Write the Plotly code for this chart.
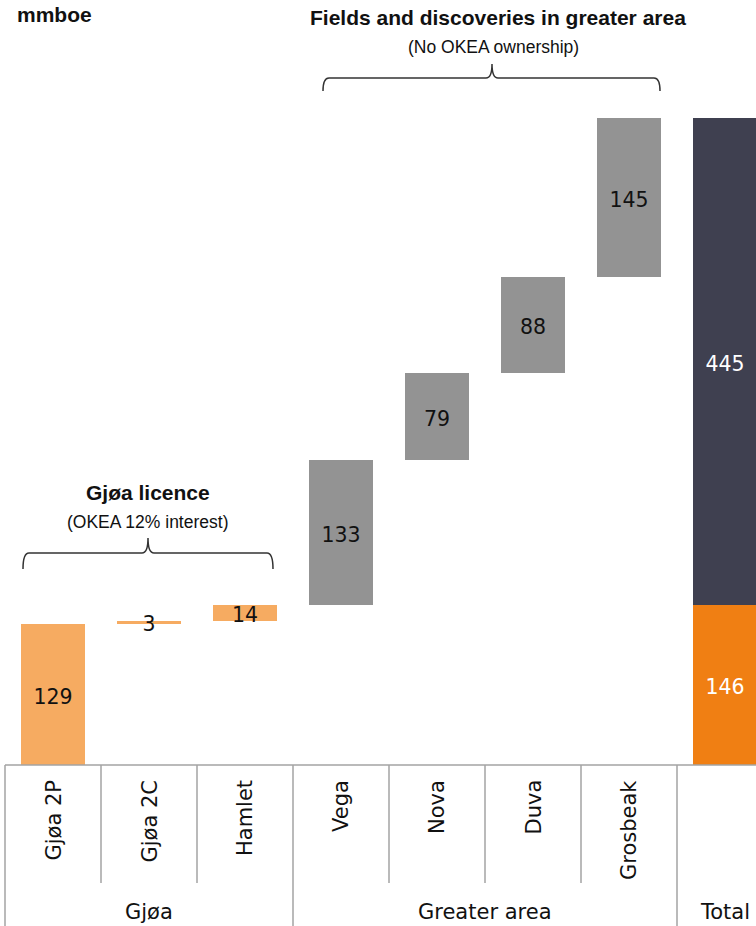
import plotly.graph_objects as go

# ---- data ----
categories = ["Gjøa 2P", "Gjøa 2C", "Hamlet", "Vega", "Nova", "Duva", "Grosbeak", "Total"]
gjoa_values = [129, 3, 14]
greater_values = [133, 79, 88, 145]
groups = [("Gjøa", 0, 2), ("Greater area", 3, 6), ("Total", 7, 7)]

# ---- styles ----
C_GJOA = "#F6AB61"
C_GREATER = "#939393"
C_TOTAL_GJOA = "#F07F13"
C_TOTAL_GREATER = "#3F4050"
LINE = "#A3A3A3"
VAL_FONT = "DejaVu Sans"
TITLE_FONT = "Liberation Sans, Arial"

W, H = 756, 926
ML, MR, MT, MB = 5, 0, 0, 161
plot_w = W - ML - MR
plot_h = H - MT - MB
cat_px = 96.0
x_min = -0.5
x_max = x_min + plot_w / cat_px
y_top = 699.0
bar_w = 0.667
px_per_unit = plot_h / y_top
label_shift = 4 / px_per_unit   # nudge text centre down a few pixels

def py(p):            # pixel y -> paper y
    return (MT + plot_h - p) / plot_h

def px_x(p):          # pixel x -> data x
    return x_min + (p - ML) / cat_px

def py_y(p):          # pixel y -> data y
    return (MT + plot_h - p) / plot_h * y_top

def xpaper(xd):
    return (xd - x_min) / (x_max - x_min)

fig = go.Figure()

# incremental bars
inc_values = gjoa_values + greater_values
inc_colors = [C_GJOA] * len(gjoa_values) + [C_GREATER] * len(greater_values)
bases = []
run = 0
for v in inc_values:
    bases.append(run)
    run += v
xs = list(range(len(inc_values)))
fig.add_trace(go.Bar(x=xs, y=inc_values, base=bases, width=bar_w,
                     marker=dict(color=inc_colors, line=dict(width=0)),
                     hoverinfo="skip", showlegend=False))

# total stacked bar
tot_gjoa = sum(gjoa_values)
tot_greater = sum(greater_values)
ti = len(categories) - 1
fig.add_trace(go.Bar(x=[ti], y=[tot_gjoa], base=[0], width=bar_w,
                     marker=dict(color=C_TOTAL_GJOA, line=dict(width=0)),
                     hoverinfo="skip", showlegend=False))
fig.add_trace(go.Bar(x=[ti], y=[tot_greater], base=[tot_gjoa], width=bar_w,
                     marker=dict(color=C_TOTAL_GREATER, line=dict(width=0)),
                     hoverinfo="skip", showlegend=False))

# value labels
lx = xs + [ti, ti]
ly = [b + v / 2 for b, v in zip(bases, inc_values)] + [tot_gjoa / 2, tot_gjoa + tot_greater / 2]
ly = [y - label_shift for y in ly]
lt = [str(v) for v in inc_values] + [str(tot_gjoa), str(tot_greater)]
lc = ["#111111"] * len(inc_values) + ["white", "white"]
fig.add_trace(go.Scatter(x=lx, y=ly, text=lt, mode="text", cliponaxis=False,
                         textfont=dict(family=VAL_FONT, size=20.5, color=lc),
                         hoverinfo="skip", showlegend=False))

shapes = []
annotations = []

# table lines below the axis
shapes.append(dict(type="line", xref="paper", yref="paper", x0=0, x1=1, y0=0, y1=0,
                   line=dict(color=LINE, width=1.5)))
group_bounds = set()
for _, s, e in groups:
    group_bounds.add(s - 0.5)
    group_bounds.add(e + 0.5)
for i in range(len(categories) + 1):
    b = i - 0.5
    if b > x_max:
        continue
    yb = py(H) if b in group_bounds else py(883)
    shapes.append(dict(type="line", xref="paper", yref="paper", x0=xpaper(b), x1=xpaper(b),
                       y0=0, y1=yb, line=dict(color=LINE, width=1.5)))

# category labels
for i, c in enumerate(categories):
    if c == "Total":
        continue
    annotations.append(dict(x=i, y=py(778), xref="x", yref="paper", text=c, textangle=-90,
                            showarrow=False, xanchor="center", yanchor="top",
                            font=dict(family=VAL_FONT, size=21, color="#111111")))
# group labels
for name, s, e in groups:
    annotations.append(dict(x=(s + e) / 2, y=py(912), xref="x", yref="paper", text=name,
                            showarrow=False, xanchor="center", yanchor="middle",
                            font=dict(family=VAL_FONT, size=21, color="#111111")))

# braces
def brace(x0p, x1p, xcp, yh, yend, ytop, r=6):
    pts = lambda x, y: f"{px_x(x):.5f},{py_y(y):.4f}"
    return ("M " + pts(x0p, yend) +
            " Q " + pts(x0p, yh) + " " + pts(x0p + r, yh) +
            " L " + pts(xcp - r, yh) +
            " Q " + pts(xcp, yh) + " " + pts(xcp, ytop) +
            " Q " + pts(xcp, yh) + " " + pts(xcp + r, yh) +
            " L " + pts(x1p - r, yh) +
            " Q " + pts(x1p, yh) + " " + pts(x1p, yend))

shapes.append(dict(type="path", xref="x", yref="y",
                   path=brace(23, 273, 148, 553, 569, 538),
                   line=dict(color="#333333", width=1.5)))
shapes.append(dict(type="path", xref="x", yref="y",
                   path=brace(323, 660, 492, 78, 91, 64),
                   line=dict(color="#333333", width=1.5)))

# titles
annotations.append(dict(x=px_x(15), y=py(14), xref="x", yref="paper", text="<b>mmboe</b>",
                        showarrow=False, xanchor="left", yanchor="middle",
                        font=dict(family=TITLE_FONT, size=21, color="#111111")))
annotations.append(dict(x=px_x(498), y=py(17), xref="x", yref="paper",
                        text="<b>Fields and discoveries in greater area</b>",
                        showarrow=False, xanchor="center", yanchor="middle",
                        font=dict(family=TITLE_FONT, size=21, color="#111111")))
annotations.append(dict(x=px_x(493), y=py(47), xref="x", yref="paper",
                        text="(No OKEA ownership)",
                        showarrow=False, xanchor="center", yanchor="middle",
                        font=dict(family=TITLE_FONT, size=17.5, color="#111111")))
annotations.append(dict(x=px_x(148), y=py(493), xref="x", yref="paper",
                        text="<b>Gjøa licence</b>",
                        showarrow=False, xanchor="center", yanchor="middle",
                        font=dict(family=TITLE_FONT, size=21, color="#111111")))
annotations.append(dict(x=px_x(147), y=py(522), xref="x", yref="paper",
                        text="(OKEA 12% interest)",
                        showarrow=False, xanchor="center", yanchor="middle",
                        font=dict(family=TITLE_FONT, size=17.5, color="#111111")))

fig.update_layout(
    width=W, height=H, autosize=False,
    margin=dict(l=ML, r=MR, t=MT, b=MB, pad=0),
    plot_bgcolor="white", paper_bgcolor="white",
    barmode="overlay", bargap=0,
    xaxis=dict(range=[x_min, x_max], showgrid=False, zeroline=False, showticklabels=False,
               showline=False, ticks="", fixedrange=True),
    yaxis=dict(range=[0, y_top], showgrid=False, zeroline=False, showticklabels=False,
               showline=False, ticks="", fixedrange=True),
    shapes=shapes, annotations=annotations,
)

fig.write_html("out.html", config={"displayModeBar": False},
               post_script="document.body.style.margin='0';document.body.style.overflow='hidden';")
